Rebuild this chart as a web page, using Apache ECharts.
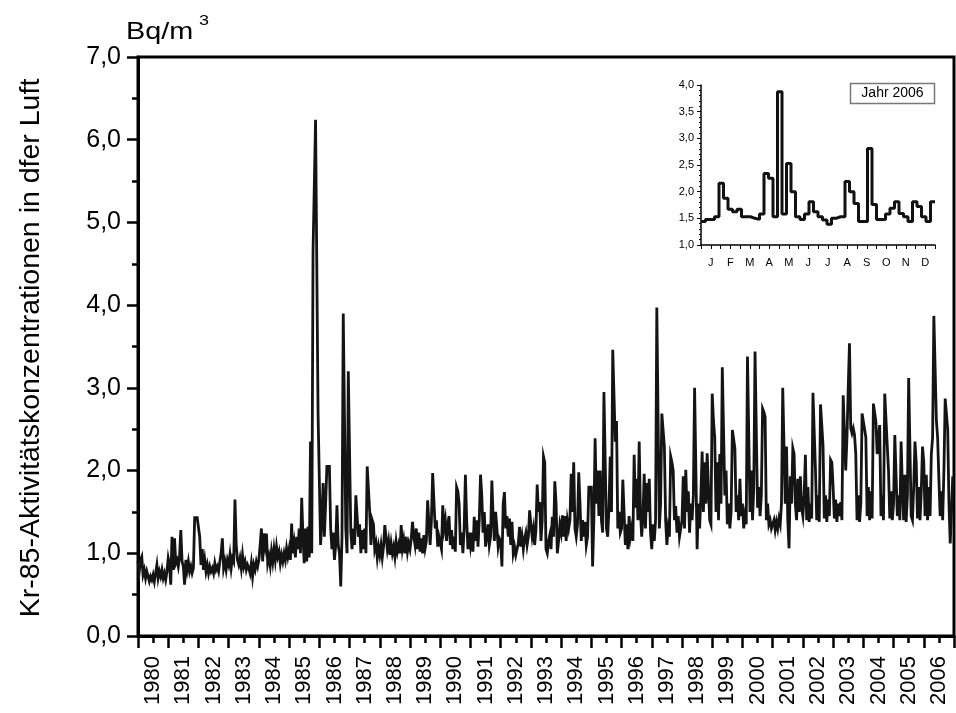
<!DOCTYPE html>
<html><head><meta charset="utf-8">
<script src="https://cdn.jsdelivr.net/npm/echarts@6/dist/echarts.min.js"></script>
<style>html,body{margin:0;padding:0;background:#fff}#c{width:956px;height:713px}</style>
</head><body><div id="c"></div><script>
// ---- main series: semi-monthly readings (24 per year), Bq/m3 ----
const v1980 = [0.90,0.78,0.92,0.96,0.74,0.80,0.70,0.78,0.72,0.66,0.72,0.68,0.74,0.66,0.76,0.86,0.70,0.78,0.72,0.80,0.70,0.76,0.68,0.78];
const v1981 = [0.94,0.86,0.62,1.20,0.80,1.18,0.88,0.92,0.84,0.96,1.28,0.90,0.84,0.62,0.92,0.80,0.90,0.78,0.84,0.76,0.82,1.43,1.43,1.43];
const v1982 = [1.43,1.20,0.86,1.05,0.80,0.92,0.78,0.86,0.76,0.84,0.78,0.82,0.76,0.88,0.80,0.84,0.78,0.90,1.00,1.18,0.82,0.90,0.80,0.92];
const v1983 = [0.86,0.98,0.82,0.94,0.90,1.65,1.10,0.92,0.86,0.94,0.82,0.98,0.84,0.90,0.80,0.86,0.82,0.76,0.88,0.72,0.86,0.80,0.90,0.84];
const v1984 = [0.92,1.10,1.30,0.90,1.24,1.10,1.24,0.88,0.96,0.85,1.02,0.90,1.05,0.92,1.08,0.96,1.02,0.88,0.98,0.90,1.00,0.92,1.06,0.96];
const v1985 = [1.05,0.92,1.36,1.00,1.12,0.95,1.20,1.05,1.30,1.00,1.67,1.20,0.88,1.30,0.90,1.32,0.95,2.35,1.00,4.65,4.65,6.24,6.24,2.68];
const v1986 = [2.68,1.10,1.40,1.85,1.20,1.60,2.05,2.05,2.05,1.30,1.05,1.25,0.92,1.10,1.58,1.10,1.00,0.60,1.20,3.90,3.90,1.30,1.00,3.20];
const v1987 = [3.20,1.25,1.05,1.30,1.10,1.70,1.45,1.20,1.35,1.00,1.28,1.05,1.30,1.00,2.05,2.05,1.50,1.10,1.40,1.35,1.05,1.12,0.95,1.08];
const v1988 = [0.98,1.10,0.95,1.08,1.34,1.34,1.05,1.15,0.98,1.12,1.00,1.08,0.96,1.14,1.02,1.10,1.00,1.34,1.06,1.16,1.00,1.20,1.02,1.12];
const v1989 = [1.05,1.18,1.38,1.20,1.10,1.30,1.05,1.25,1.02,1.18,1.00,1.22,1.06,1.15,1.64,1.64,1.10,1.40,1.97,1.97,1.30,1.40,1.08,1.20];
const v1990 = [1.20,1.05,1.58,1.30,1.40,1.15,1.35,1.45,1.10,1.28,1.05,1.20,1.02,1.80,1.75,1.60,1.10,1.25,1.00,1.30,1.95,1.40,1.05,1.25];
const v1991 = [1.10,1.25,1.02,1.44,1.15,1.40,1.08,1.40,1.95,1.70,1.25,1.50,1.08,1.20,1.35,1.10,1.20,1.88,1.45,1.15,1.50,1.30,1.08,1.18];
const v1992 = [1.15,0.84,1.60,1.74,1.30,1.45,1.20,1.42,1.10,1.38,1.00,1.08,0.98,1.05,1.12,1.32,1.08,1.20,1.05,1.18,1.25,1.10,1.20,1.52];
const v1993 = [1.35,1.20,1.30,1.10,1.28,1.83,1.50,1.62,1.15,1.40,2.17,2.10,1.05,1.00,1.15,1.22,1.05,1.44,1.20,1.87,1.60,1.00,1.15,1.34];
const v1994 = [1.25,1.46,1.20,1.45,1.15,1.40,1.30,1.40,1.96,1.50,2.10,1.30,1.20,1.35,1.98,1.60,1.15,1.40,1.20,1.38,1.10,1.20,1.80,1.80];
const v1995 = [1.80,0.84,1.40,2.39,1.60,2.00,1.45,2.00,1.40,1.25,2.95,2.95,1.30,1.20,1.55,2.17,1.50,3.46,3.46,2.35,2.60,1.30,1.50,1.25];
const v1996 = [1.30,1.89,1.89,1.10,1.35,1.05,1.45,1.20,1.30,1.15,2.19,1.55,1.90,1.40,2.35,1.50,1.20,1.45,1.96,1.30,1.85,1.50,1.90,1.25];
const v1997 = [1.05,1.35,1.15,1.40,3.97,3.97,1.30,1.60,2.69,2.69,2.29,1.40,1.10,1.30,1.20,2.17,2.10,2.00,1.40,1.57,1.25,1.45,1.20,1.30];
const v1998 = [1.40,1.93,1.30,2.01,1.50,1.75,1.25,1.60,1.40,1.70,3.00,3.00,1.05,1.60,1.30,1.70,2.23,1.50,2.10,1.60,2.21,2.21,1.40,1.35];
const v1999 = [2.93,2.60,2.40,1.50,2.10,1.40,2.20,1.60,3.25,3.25,1.70,2.00,1.35,1.60,1.30,1.50,2.49,2.49,2.27,1.50,1.70,1.40,1.90,1.45];
const v2000 = [1.60,1.30,1.45,1.35,3.38,3.38,1.50,2.00,1.40,1.80,3.44,3.44,1.55,1.80,1.45,1.70,2.75,2.71,2.65,1.40,1.60,1.35,1.40,1.30];
const v2001 = [1.32,1.40,1.28,1.38,1.30,1.42,1.35,1.60,3.00,3.00,1.60,2.29,1.40,1.06,1.93,1.60,2.27,2.20,1.60,1.40,1.90,1.50,1.93,1.55];
const v2002 = [1.45,1.70,2.19,1.40,1.80,1.38,1.60,1.42,2.94,2.94,2.00,1.40,1.70,1.38,2.80,2.80,2.30,1.42,1.70,1.38,1.65,1.45,2.13,2.10];
const v2003 = [1.80,1.42,1.65,1.38,1.60,1.45,1.62,1.40,2.91,2.91,2.00,2.40,3.00,3.54,2.51,2.45,2.51,2.43,2.20,1.40,1.70,1.38,1.60,2.69];
const v2004 = [2.69,2.50,2.40,1.45,1.80,1.40,1.75,1.42,2.81,2.81,2.59,2.20,2.40,2.55,1.45,1.70,1.40,2.93,2.93,2.30,2.00,1.42,1.75,1.40];
const v2005 = [1.60,2.43,2.43,1.45,1.70,1.40,2.35,1.80,1.40,1.95,1.38,1.70,3.12,3.12,1.45,1.40,1.80,2.35,2.10,1.42,1.80,1.40,1.75,2.29];
const v2006 = [2.10,1.45,1.95,1.40,1.80,1.45,2.20,2.40,3.87,3.87,2.61,2.40,1.90,1.45,1.75,1.40,2.00,2.87,2.87,2.50,1.60,1.12,1.50,1.93];

const startYear = 1980;
const yearValues = [v1980,v1981,v1982,v1983,v1984,v1985,v1986,v1987,v1988,v1989,v1990,v1991,v1992,v1993,v1994,v1995,v1996,v1997,v1998,v1999,v2000,v2001,v2002,v2003,v2004,v2005,v2006];

// ---- inset: weekly values 2006 ----
const weekly2006 = [1.44,1.48,1.48,1.53,2.16,1.875,1.67,1.625,1.67,1.53,1.53,1.50,1.48,1.58,2.34,2.25,1.53,3.875,1.58,2.53,2.00,1.53,1.48,1.58,1.81,1.625,1.53,1.47,1.39,1.50,1.53,1.53,2.19,2.00,1.78,1.44,1.44,2.81,1.76,1.48,1.48,1.58,1.69,1.81,1.59,1.53,1.44,1.81,1.72,1.53,1.44,1.81];
const monthLabels = ['J','F','M','A','M','J','J','A','S','O','N','D'];
const insetLegend = 'Jahr 2006';

const mainData = [];
yearValues.forEach((arr, k) => {
  arr.forEach((v, i) => mainData.push([startYear + k + i / arr.length, v]));
});
const insetData = weekly2006.map((v, i) => [i * 12 / 52, v]);
insetData.push([12, weekly2006[weekly2006.length - 1]]);

const FONT = "'Liberation Sans', Arial, sans-serif";
const comma = v => v.toFixed(1).replace('.', ',');

const chart = echarts.init(document.getElementById('c'), null, {renderer: 'canvas'});
chart.setOption({
  animation: false,
  backgroundColor: '#fff',
  grid: [
    {left: 138, right: 2, top: 57, bottom: 77, show: true, borderColor: '#000', borderWidth: 3, backgroundColor: 'transparent'},
    {left: 701, top: 85, width: 234, height: 160}
  ],
  xAxis: [
    {type: 'value', gridIndex: 0, min: 1980, max: 2007, interval: 1,
     axisLine: {show: true, lineStyle: {color: '#000', width: 3}},
     axisTick: {show: true, inside: false, length: 12, lineStyle: {color: '#000', width: 2.5}},
     minorTick: {show: true, splitNumber: 2, length: 7, lineStyle: {color: '#000', width: 2.5}},
     axisLabel: {show: false}, splitLine: {show: false}},
    {type: 'value', gridIndex: 0, min: 1980, max: 2007, interval: 0.5, position: 'bottom',
     axisLine: {show: false}, axisTick: {show: false}, splitLine: {show: false},
     axisLabel: {show: true, interval: 0, rotate: 90, margin: 20, fontSize: 22, fontFamily: FONT, color: '#000',
       hideOverlap: false,
       formatter: v => (Math.abs(v - Math.floor(v) - 0.5) < 1e-6) ? String(Math.floor(v)) : ''}},
    {type: 'value', gridIndex: 1, min: 0, max: 12, interval: 0.5,
     axisLine: {show: true, lineStyle: {color: '#000', width: 1.5}},
     axisTick: {show: true, inside: false, length: 4, lineStyle: {color: '#000', width: 1}},
     splitLine: {show: false},
     axisLabel: {show: true, interval: 0, margin: 12, fontSize: 11, fontFamily: FONT, color: '#000',
       formatter: v => (Math.abs(v - Math.floor(v) - 0.5) < 1e-6) ? monthLabels[Math.floor(v)] : ''}}
  ],
  yAxis: [
    {type: 'value', gridIndex: 0, min: 0, max: 7, interval: 1,
     axisLine: {show: true, lineStyle: {color: '#000', width: 3}},
     axisTick: {show: true, inside: false, length: 11, lineStyle: {color: '#000', width: 2.5}},
     minorTick: {show: true, splitNumber: 2, length: 6, lineStyle: {color: '#000', width: 2.5}},
     splitLine: {show: false},
     axisLabel: {show: true, margin: 17, fontSize: 25, fontFamily: FONT, color: '#000', formatter: comma}},
    {type: 'value', gridIndex: 1, min: 1, max: 4, interval: 0.5,
     axisLine: {show: true, lineStyle: {color: '#000', width: 1.5}},
     axisTick: {show: true, inside: false, length: 4, lineStyle: {color: '#000', width: 1}},
     minorTick: {show: true, splitNumber: 5, length: 2, lineStyle: {color: '#000', width: 1}},
     splitLine: {show: false},
     axisLabel: {show: true, margin: 7, fontSize: 11, fontFamily: FONT, color: '#000', formatter: comma}}
  ],
  series: [
    {type: 'line', name: 'Kr-85', xAxisIndex: 0, yAxisIndex: 0, data: mainData,
     showSymbol: false, symbol: 'none', sampling: null,
     lineStyle: {color: '#141414', width: 2.8, join: 'miter'}, z: 3},
    {type: 'line', name: insetLegend, xAxisIndex: 2, yAxisIndex: 1, data: insetData,
     step: 'end', showSymbol: false, symbol: 'none',
     lineStyle: {color: '#111', width: 3}, z: 4}
  ],
  graphic: [
    {type: 'text', left: 126, top: 20, scaleX: 1.2,
     style: {text: 'Bq/m', font: '24px ' + FONT, fill: '#000'}},
    {type: 'text', left: 199, top: 13, scaleX: 1.2,
     style: {text: '3', font: '15px ' + FONT, fill: '#000'}},
    {type: 'text', x: 31, y: 348, rotation: Math.PI / 2,
     style: {text: 'Kr-85-Aktivitätskonzentrationen in dfer Luft', font: '28.5px ' + FONT, fill: '#000',
             align: 'center', verticalAlign: 'middle'}},
    {type: 'rect', shape: {x: 850.5, y: 83.5, width: 84, height: 20},
     style: {fill: '#fff', stroke: '#777', lineWidth: 1.5}, z: 10},
    {type: 'text', x: 892.5, y: 93.5, z: 11,
     style: {text: insetLegend, font: '14px ' + FONT, fill: '#000', align: 'center', verticalAlign: 'middle'}}
  ]
});
</script></body></html>
